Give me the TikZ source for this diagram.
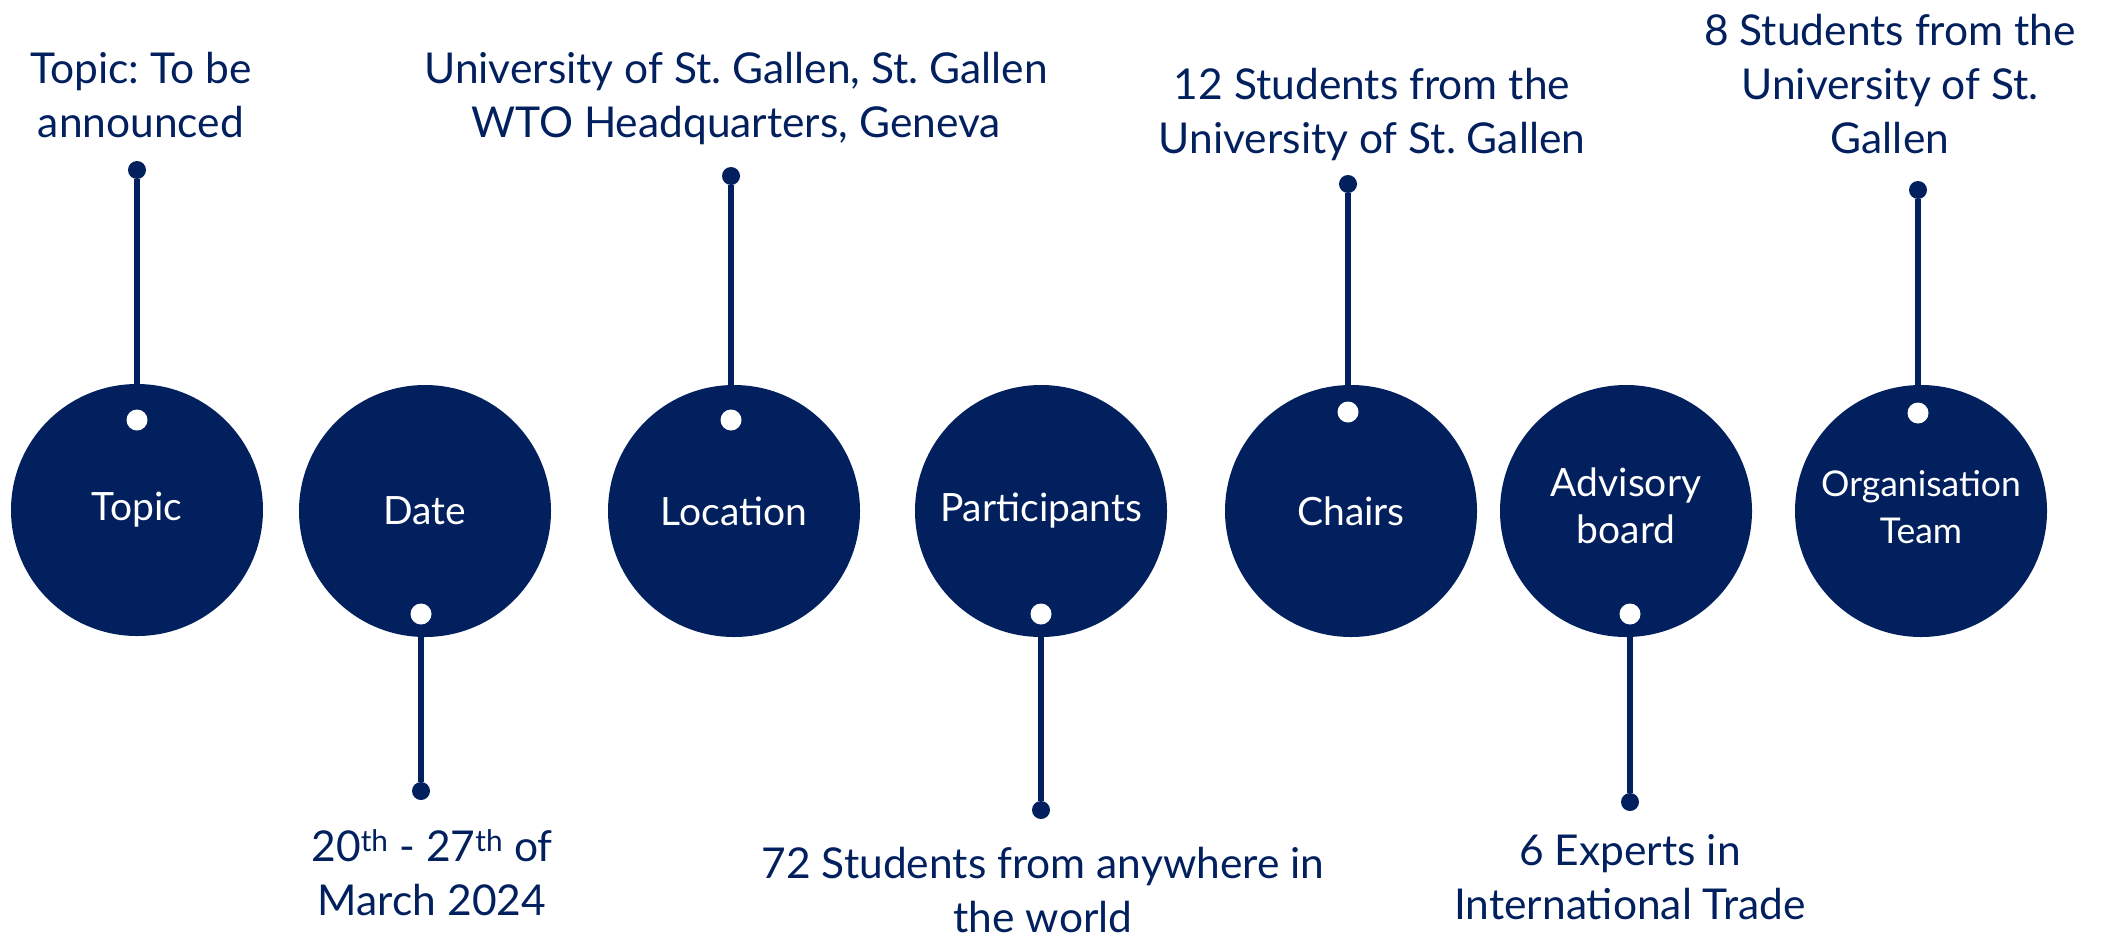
\documentclass[tikz,border=0pt]{standalone}
\usepackage{fontspec}
\setmainfont{Lato}
\usetikzlibrary{positioning}
\definecolor{navy}{RGB}{2,32,94}
\frenchspacing

\begin{document}
\begin{tikzpicture}[x=1pt,y=-1pt,
    bubble/.style={circle,fill=navy,minimum size=252pt,inner sep=0pt,text=white,align=center,font=\fontsize{39}{47}\selectfont},
    hole/.style={circle,fill=white,minimum size=21pt,inner sep=0pt},
    pin/.style={circle,fill=navy,minimum size=18pt,inner sep=0pt},
    info/.style={text=navy,align=center,anchor=base,inner sep=0pt,font=\fontsize{42.5}{54}\selectfont},
    stem/.style={navy,line width=6pt}]
  \useasboundingbox (0,0) rectangle (2103,937);

  % the seven circles
  \node[bubble] (topic) at (137,510) {Topic};
  \node[bubble] (date) at (425,511) {Date};
  \node[bubble] (location) at (734,511) {Location};
  \node[bubble] (participants) at (1041,511) {\raisebox{4pt}{Participants}};
  \node[bubble] (chairs) at (1351,511) {Chairs};
  \node[bubble] (advisory) at (1626,511) {\raisebox{3pt}{\begin{tabular}{@{}c@{}}Advisory\\board\end{tabular}}};
  \node[bubble,font=\fontsize{35.5}{47}\selectfont] (orga) at (1921,511) {\raisebox{7pt}{\begin{tabular}{@{}c@{}}Organisation\\Team\end{tabular}}};

  % white holes
  \node[hole] (topichole) at (137,420) {};
  \node[hole] (datehole) at (421,614) {};
  \node[hole] (locationhole) at (731,420) {};
  \node[hole] (participantshole) at (1041,614) {};
  \node[hole] (chairshole) at (1348,412) {};
  \node[hole] (advisoryhole) at (1630,614) {};
  \node[hole] (orgahole) at (1918,413) {};

  % pins and stems
  \node[pin] (topicpin) at (137,170) {};
  \node[pin] (datepin) at (421,791) {};
  \node[pin] (locationpin) at (731,176) {};
  \node[pin] (participantspin) at (1041,810) {};
  \node[pin] (chairspin) at (1348,184) {};
  \node[pin] (advisorypin) at (1630,802) {};
  \node[pin] (orgapin) at (1918,190) {};
  \draw[stem] (topicpin) -- (topicpin |- topic.north);
  \draw[stem] (datepin) -- (datepin |- date.south);
  \draw[stem] (locationpin) -- (locationpin |- location.north);
  \draw[stem] (participantspin) -- (participantspin |- participants.south);
  \draw[stem] (chairspin) -- (chairspin |- chairs.north);
  \draw[stem] (advisorypin) -- (advisorypin |- advisory.south);
  \draw[stem] (orgapin) -- (orgapin |- orga.north);

  % texts
  \node[info] (topictext) at (141,137) {Topic: To be\\announced};
  \node[info] (datetext) at (432,915) {20\textsuperscript{th} - 27\textsuperscript{th} of\\March 2024};
  \node[info] (locationtext) at (736,137) {University of St. Gallen, St. Gallen\\WTO Headquarters, Geneva};
  \node[info] (participantstext) at (1043,932) {72 Students from anywhere in\\the world};
  \node[info] (chairstext) at (1372,153) {12 Students from the\\University of St. Gallen};
  \node[info] (advisorytext) at (1630,919) {6 Experts in\\International Trade};
  \node[info] (orgatext) at (1890,153) {8 Students from the\\University of St.\\Gallen};
\end{tikzpicture}
\end{document}
